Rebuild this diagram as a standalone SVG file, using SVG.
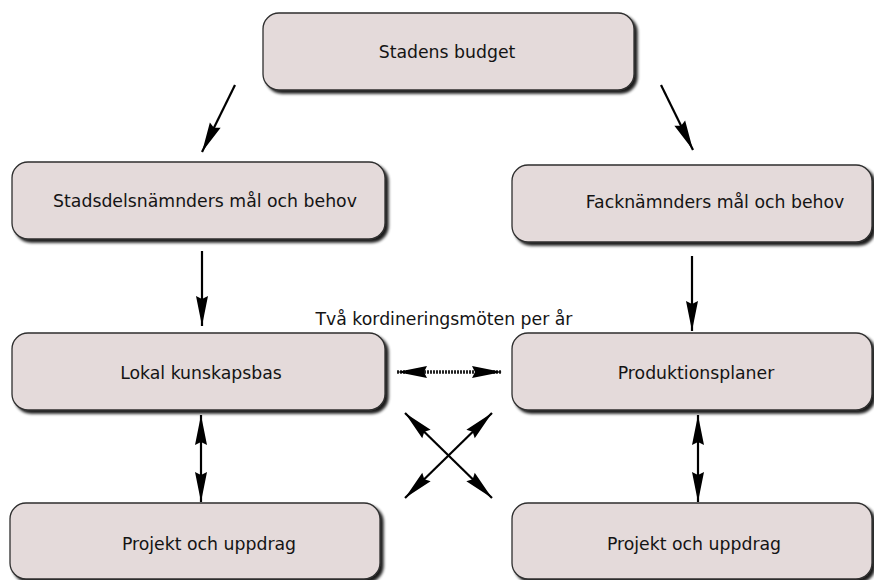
<svg xmlns="http://www.w3.org/2000/svg" width="874" height="580" viewBox="0 0 874 580">
<style>
.box{fill:#e4dada;stroke:#2e2e2e;stroke-width:1.3;filter:url(#sh)}
.t{font-family:"DejaVu Sans",Verdana,sans-serif;font-size:17.3px;fill:#141414;text-anchor:middle}
.c{stroke:#000;stroke-width:2.2;fill:none}
.one{marker-end:url(#ah)}
.two{marker-start:url(#ah);marker-end:url(#ah)}
.hatch{stroke:#222;stroke-width:3.5;stroke-dasharray:2 1}
</style>
<defs>
<filter id="sh" x="-10%" y="-20%" width="120%" height="150%">
<feGaussianBlur in="SourceAlpha" stdDeviation="1.5"/>
<feOffset dx="3" dy="3" result="b"/>
<feComponentTransfer><feFuncA type="linear" slope="0.9"/></feComponentTransfer>
<feMerge><feMergeNode/><feMergeNode in="SourceGraphic"/></feMerge>
</filter>
<marker id="ah" markerUnits="userSpaceOnUse" viewBox="-33 -7 34 14" refX="0" refY="0" markerWidth="34" markerHeight="14" orient="auto-start-reverse">
<path d="M0,0 L-30,-6 L-27,0 L-30,6 Z" fill="#000"/>
</marker>
</defs>
<rect width="874" height="580" fill="#fff"/>
<g id="connectors">
<line class="c one" x1="235" y1="85" x2="202" y2="152"/>
<line class="c one" x1="661" y1="85" x2="693" y2="150"/>
<line class="c one" x1="202" y1="251" x2="202" y2="326"/>
<line class="c one" x1="692" y1="256" x2="692" y2="331"/>
<line class="c two" x1="201" y1="415" x2="201" y2="502"/>
<line class="c two" x1="698" y1="415" x2="698" y2="502"/>
<line class="c two hatch" x1="397" y1="372" x2="502" y2="372"/>
<line class="c two" x1="405" y1="413" x2="492" y2="498"/>
<line class="c two" x1="492" y1="413" x2="405" y2="498"/>
</g>
<text class="t" x="444" y="325">Två kordineringsmöten per år</text>
<g id="n1"><rect class="box" x="263" y="13" width="371" height="77" rx="16"/><text class="t" x="447" y="58">Stadens budget</text></g>
<g id="n2"><rect class="box" x="12" y="162" width="373" height="77" rx="16"/><text class="t" x="205" y="207">Stadsdelsnämnders mål och behov</text></g>
<g id="n3"><rect class="box" x="512" y="165" width="360" height="77" rx="16"/><text class="t" x="715" y="208">Facknämnders mål och behov</text></g>
<g id="n4"><rect class="box" x="12" y="333" width="373" height="77" rx="16"/><text class="t" x="201" y="379">Lokal kunskapsbas</text></g>
<g id="n5"><rect class="box" x="512" y="333" width="360" height="77" rx="16"/><text class="t" x="696" y="379">Produktionsplaner</text></g>
<g id="n6"><rect class="box" x="10" y="503" width="370" height="76" rx="16"/><text class="t" x="209" y="550">Projekt och uppdrag</text></g>
<g id="n7"><rect class="box" x="512" y="503" width="360" height="76" rx="16"/><text class="t" x="694" y="550">Projekt och uppdrag</text></g>
</svg>
